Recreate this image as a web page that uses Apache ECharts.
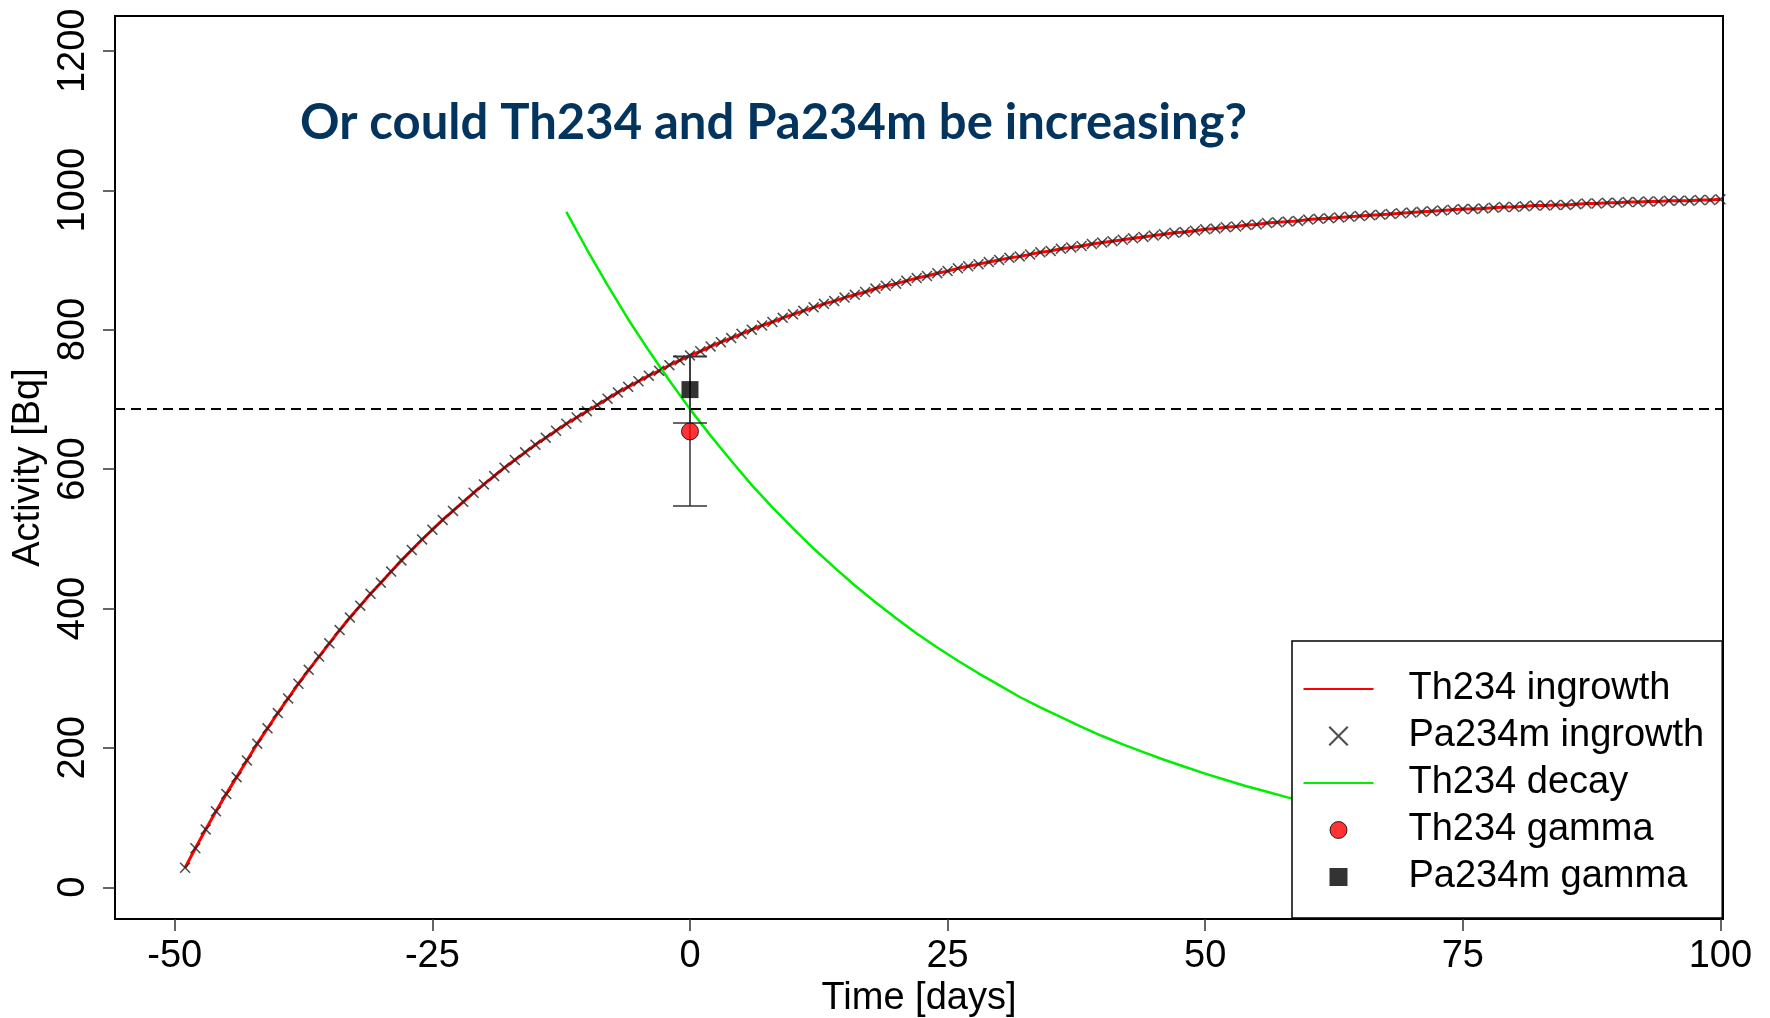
<!DOCTYPE html>
<html>
<head>
<meta charset="utf-8">
<script src="https://cdn.jsdelivr.net/npm/echarts@6/dist/echarts.min.js"></script>
<style>
  html, body { margin: 0; padding: 0; background: #fff; }
  #main { width: 1770px; height: 1018px; }
</style>
</head>
<body>
<div id="main"></div>
<script>
// ingrowth curve, one point per day (red line + black crosses)
var ingrowthDays = [
  -49, -48, -47, -46, -45, -44, -43, -42, -41, -40,
  -39, -38, -37, -36, -35, -34, -33, -32, -31, -30,
  -29, -28, -27, -26, -25, -24, -23, -22, -21, -20,
  -19, -18, -17, -16, -15, -14, -13, -12, -11, -10,
  -9, -8, -7, -6, -5, -4, -3, -2, -1, 0,
  1, 2, 3, 4, 5, 6, 7, 8, 9, 10,
  11, 12, 13, 14, 15, 16, 17, 18, 19, 20,
  21, 22, 23, 24, 25, 26, 27, 28, 29, 30,
  31, 32, 33, 34, 35, 36, 37, 38, 39, 40,
  41, 42, 43, 44, 45, 46, 47, 48, 49, 50,
  51, 52, 53, 54, 55, 56, 57, 58, 59, 60,
  61, 62, 63, 64, 65, 66, 67, 68, 69, 70,
  71, 72, 73, 74, 75, 76, 77, 78, 79, 80,
  81, 82, 83, 84, 85, 86, 87, 88, 89, 90,
  91, 92, 93, 94, 95, 96, 97, 98, 99, 100
];
var th234Ingrowth = [
  28, 56, 83, 109, 134, 158, 182, 206, 228, 250,
  271, 292, 312, 331, 350, 369, 387, 404, 421, 437,
  453, 469, 484, 499, 513, 527, 540, 553, 566, 578,
  590, 602, 613, 624, 635, 645, 655, 665, 674, 683,
  692, 701, 710, 718, 726, 734, 741, 749, 756, 763,
  769, 776, 782, 788, 794, 800, 806, 811, 817, 822,
  827, 832, 837, 841, 846, 850, 854, 859, 863, 866,
  870, 874, 877, 881, 884, 888, 891, 894, 897, 900,
  903, 905, 908, 911, 913, 916, 918, 920, 923, 925,
  927, 929, 931, 933, 935, 937, 939, 940, 942, 944,
  945, 947, 948, 950, 951, 953, 954, 955, 956, 958,
  959, 960, 961, 962, 963, 964, 965, 966, 967, 968,
  969, 970, 971, 972, 973, 973, 974, 975, 976, 976,
  977, 978, 978, 979, 979, 980, 981, 981, 982, 982,
  983, 983, 984, 984, 985, 985, 985, 986, 986, 987
];
// the crosses sit right on the red curve
var pa234mIngrowth = th234Ingrowth.slice();

var decayDays = [
  -12, -10, -8, -6, -4, -2, 0, 2, 4, 6, 8, 10, 12, 14, 16, 18, 20, 22, 24,
  26, 28, 30, 32, 34, 36, 38, 40, 42, 44, 46, 48, 50, 52, 54, 56, 58, 60,
  62, 64, 66, 68, 70, 72, 74, 76, 78, 80, 82, 84, 86, 88, 90, 92, 94, 96, 98, 100
];
var th234Decay = [
  969, 915, 864, 815, 770, 727, 686, 648, 612, 577, 545, 515, 486, 459, 433, 409, 386, 364, 344,
  325, 307, 290, 273, 258, 244, 230, 217, 205, 194, 183, 173, 163, 154, 145, 137, 129, 122,
  115, 109, 103, 97, 92, 87, 82, 77, 73, 69, 65, 61, 58, 55, 52, 49, 46, 43, 41, 39
];

// gamma measurements at day 0
var gammaDay = [0];
var th234Gamma = [654];
var th234GammaErr = [107];
var pa234mGamma = [714];
var pa234mGammaErr = [48];

var dashedLevel = [686];

var xTicks = [-50, -25, 0, 25, 50, 75, 100];
var yTicks = [0, 200, 400, 600, 800, 1000, 1200];

function zip(xs, ys) {
  var out = [];
  for (var i = 0; i < xs.length; i++) out.push([xs[i], ys[i]]);
  return out;
}

var errData = [
  [gammaDay[0], th234Gamma[0], th234Gamma[0] - th234GammaErr[0], th234Gamma[0] + th234GammaErr[0]],
  [gammaDay[0], pa234mGamma[0], pa234mGamma[0] - pa234mGammaErr[0], pa234mGamma[0] + pa234mGammaErr[0]]
];

var crossPath = 'path://M2,0 L10,8 L18,0 L20,2 L12,10 L20,18 L18,20 L10,12 L2,20 L0,18 L8,10 L0,2 Z';

// legend icons: 100x20 box (moveTo corners), the symbol sits in the left 70px
var box = 'M0,0 M100,20 ';
var lineIcon = 'path://' + box + 'M0,9 L70,9 L70,11 L0,11 Z';
var crossIcon = 'path://' + box + 'M26.5,0 L35,8.5 L43.5,0 L45,1.5 L36.5,10 L45,18.5 L43.5,20 L35,11.5 L26.5,20 L25,18.5 L33.5,10 L25,1.5 Z';
var circleIcon = 'path://' + box + 'M43.5,10 A8.5,8.5 0 1 1 26.5,10 A8.5,8.5 0 1 1 43.5,10 Z';
var squareIcon = 'path://' + box + 'M26,1 L44,1 L44,19 L26,19 Z';

var font = 'Liberation Sans, Arial, sans-serif';
function plain(v) { return String(v); }

var chart = echarts.init(document.getElementById('main'));
var option = {
  backgroundColor: '#fff',
  animation: false,
  title: {
    text: 'Or could Th234 and Pa234m be increasing?',
    left: 300,
    top: 99,
    padding: 0,
    textStyle: { fontFamily: 'Lato', fontWeight: 'bold', fontSize: 49, color: '#03345E' }
  },
  grid: {
    left: 115, right: 47, top: 16, bottom: 99,
    outerBoundsMode: 'none',
    containLabel: false,
    show: true, borderColor: '#000', borderWidth: 2, backgroundColor: 'transparent'
  },
  legend: {
    orient: 'vertical',
    left: 1292,
    top: 641,
    padding: [28, 18, 21, 11],
    itemGap: 7,
    itemWidth: 100,
    itemHeight: 20,
    symbolKeepAspect: true,
    backgroundColor: '#fff',
    borderColor: '#000',
    borderWidth: 1.5,
    selectedMode: false,
    z: 10,
    textStyle: { fontFamily: font, fontSize: 38, color: '#000', lineHeight: 40 },
    data: [
      { name: 'Th234 ingrowth', icon: lineIcon },
      { name: 'Pa234m ingrowth', icon: crossIcon },
      { name: 'Th234 decay', icon: lineIcon },
      { name: 'Th234 gamma', icon: circleIcon, itemStyle: { borderColor: '#000', borderWidth: 1 } },
      { name: 'Pa234m gamma', icon: squareIcon }
    ]
  },
  xAxis: {
    type: 'value',
    min: -55.8,
    max: 100.25,
    name: 'Time [days]',
    nameLocation: 'middle',
    nameGap: 61,
    nameMoveOverlap: false,
    nameTextStyle: { fontFamily: font, fontSize: 38, color: '#000' },
    axisLine: { show: false, onZero: false },
    splitLine: { show: false },
    axisTick: { show: true, length: 12, customValues: xTicks, lineStyle: { color: '#333', width: 1.5 } },
    axisLabel: { customValues: xTicks, formatter: plain, fontFamily: font, fontSize: 38, color: '#000', margin: 19 }
  },
  yAxis: {
    type: 'value',
    min: -45.5,
    max: 1250,
    name: 'Activity [Bq]',
    nameLocation: 'middle',
    nameGap: 67,
    nameMoveOverlap: false,
    nameTextStyle: { fontFamily: font, fontSize: 38, color: '#000' },
    axisLine: { show: false, onZero: false },
    splitLine: { show: false },
    axisTick: { show: true, length: 12, customValues: yTicks, lineStyle: { color: '#333', width: 1.5 } },
    axisLabel: { customValues: yTicks, formatter: plain, rotate: 90, fontFamily: font, fontSize: 38, color: '#000', margin: 22 }
  },
  series: [
    {
      name: 'Th234 ingrowth',
      type: 'line',
      data: zip(ingrowthDays, th234Ingrowth),
      symbol: 'none',
      color: '#ff0000',
      lineStyle: { color: '#ff0000', width: 3 },
      z: 3
    },
    {
      name: 'Pa234m ingrowth',
      type: 'scatter',
      data: zip(ingrowthDays, pa234mIngrowth),
      symbol: crossPath,
      symbolSize: 11,
      itemStyle: { color: '#222' },
      z: 4
    },
    {
      name: 'Th234 decay',
      type: 'line',
      data: zip(decayDays, th234Decay),
      symbol: 'none',
      color: '#00ee00',
      lineStyle: { color: '#00ee00', width: 2.5 },
      z: 3,
      markLine: {
        silent: true,
        symbol: 'none',
        label: { show: false },
        lineStyle: { color: '#000', type: [10, 6], width: 2 },
        data: [{ yAxis: dashedLevel[0] }]
      }
    },
    {
      type: 'custom',
      name: 'err',
      data: errData,
      z: 5,
      renderItem: function (params, api) {
        var x = api.value(0);
        var lo = api.coord([x, api.value(2)]);
        var hi = api.coord([x, api.value(3)]);
        var w = 17;
        var st = { stroke: '#333', lineWidth: 1.5 };
        return {
          type: 'group',
          children: [
            { type: 'line', shape: { x1: lo[0], y1: lo[1], x2: hi[0], y2: hi[1] }, style: st },
            { type: 'line', shape: { x1: lo[0] - w, y1: lo[1], x2: lo[0] + w, y2: lo[1] }, style: st },
            { type: 'line', shape: { x1: hi[0] - w, y1: hi[1], x2: hi[0] + w, y2: hi[1] }, style: st }
          ]
        };
      }
    },
    {
      name: 'Th234 gamma',
      type: 'scatter',
      data: zip(gammaDay, th234Gamma),
      symbol: 'circle',
      symbolSize: 17,
      itemStyle: { color: '#ff0000', borderColor: '#000', borderWidth: 1 },
      z: 6
    },
    {
      name: 'Pa234m gamma',
      type: 'scatter',
      data: zip(gammaDay, pa234mGamma),
      symbol: 'rect',
      symbolSize: 17,
      itemStyle: { color: '#000' },
      z: 6
    }
  ]
};
chart.setOption(option);
</script>
</body>
</html>
